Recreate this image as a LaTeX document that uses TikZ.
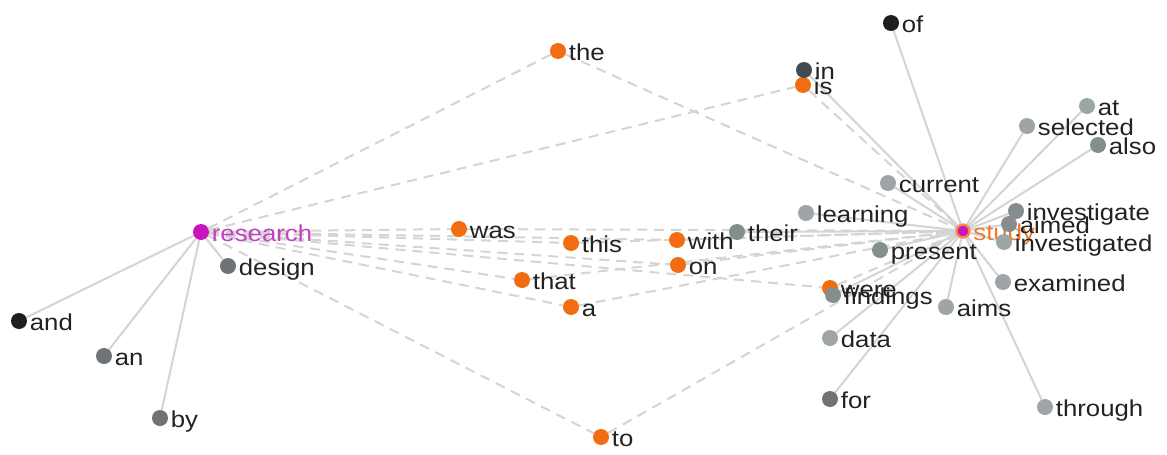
\documentclass[tikz,border=0pt]{standalone}
\usepackage{fontspec}
\setmainfont[FakeStretch=1.12]{Liberation Sans}
\usepackage{tikz}
\usetikzlibrary{backgrounds}
\usepackage{xcolor}

\definecolor{wordorange}{RGB}{242,108,18}
\definecolor{wordpink}{RGB}{204,20,190}
\definecolor{researchpink}{RGB}{196,64,190}
\definecolor{studyorange}{RGB}{236,122,44}
\definecolor{wordtext}{RGB}{34,34,34}
\definecolor{edgegray}{RGB}{212,212,212}
\definecolor{greyA}{RGB}{158,165,166}
\definecolor{greyB}{RGB}{134,141,142}
\definecolor{greyC}{RGB}{110,116,117}
\definecolor{slate}{RGB}{68,75,78}
\definecolor{ink}{RGB}{30,30,30}

\begin{document}
\begin{tikzpicture}[x=1pt,y=-1pt,font=\fontsize{23}{27}\selectfont,label distance=2.5pt,
  dot/.style={circle,fill=#1,minimum size=16pt,inner sep=0pt},
  every label/.style={inner sep=0pt,text height=19pt,text depth=0pt,text=wordtext},
  link/.style={draw=edgegray,line width=2pt},
  gap/.style={draw=edgegray,line width=2pt,dash pattern=on 10pt off 7pt}]
\useasboundingbox (0,0) rectangle (1167,455);
% the two hubs
\node[dot=wordpink,label={[text=researchpink]right:research}] (research) at (201,232) {};
\node[dot=wordpink,minimum size=13pt,draw=wordorange!80,line width=2.4pt,label={[text=studyorange]right:study}] (study) at (963,231) {};
% words around research
\node[dot=greyC,label=right:design] (w-design) at (228,266) {};
\node[dot=ink,label=right:and] (w-and) at (19,321) {};
\node[dot=greyC,label=right:an] (w-an) at (104,356) {};
\node[dot=greyC,label=right:by] (w-by) at (160,418) {};
% words shared by both hubs
\node[dot=wordorange,label=right:the] (w-the) at (558,51) {};
\node[dot=wordorange,label=right:was] (w-was) at (459,229) {};
\node[dot=wordorange,label=right:this] (w-this) at (571,243) {};
\node[dot=wordorange,label=right:that] (w-that) at (522,280) {};
\node[dot=wordorange,label=right:a] (w-a) at (571,307) {};
\node[dot=wordorange,label=right:with] (w-with) at (677,240) {};
\node[dot=wordorange,label=right:on] (w-on) at (678,265) {};
\node[dot=wordorange,label=right:to] (w-to) at (601,437) {};
\node[dot=wordorange,label=right:is] (w-is) at (803,85) {};
\node[dot=wordorange,label=right:were] (w-were) at (830,288) {};
% words around study
\node[dot=slate,label=right:in] (w-in) at (804,70) {};
\node[dot=ink,label=right:of] (w-of) at (891,23) {};
\node[dot=greyA,label=right:at] (w-at) at (1087,106) {};
\node[dot=greyA,label=right:selected] (w-selected) at (1027,126) {};
\node[dot=greyB,label=right:also] (w-also) at (1098,145) {};
\node[dot=greyA,label=right:current] (w-current) at (888,183) {};
\node[dot=greyA,label=right:learning] (w-learning) at (806,213) {};
\node[dot=greyB,label=right:their] (w-their) at (737,232) {};
\node[dot=greyB,label=right:investigate] (w-investigate) at (1016,211) {};
\node[dot=greyB,label=right:aimed] (w-aimed) at (1009,224) {};
\node[dot=greyA,label=right:investigated] (w-investigated) at (1004,242) {};
\node[dot=greyB,label=right:present] (w-present) at (880,250) {};
\node[dot=greyA,label=right:examined] (w-examined) at (1003,282) {};
\node[dot=greyB,label=right:findings] (w-findings) at (833,295) {};
\node[dot=greyA,label=right:aims] (w-aims) at (946,307) {};
\node[dot=greyA,label=right:data] (w-data) at (830,338) {};
\node[dot=greyC,label=right:for] (w-for) at (830,399) {};
\node[dot=greyA,label=right:through] (w-through) at (1045,407) {};
\begin{scope}[on background layer]
% solid links to a single hub
\draw[link] (research) -- (w-and);
\draw[link] (research) -- (w-an);
\draw[link] (research) -- (w-by);
\draw[link] (research) -- (w-design);
\draw[link] (study) -- (w-of);
\draw[link] (study) -- (w-in);
\draw[link] (study) -- (w-at);
\draw[link] (study) -- (w-selected);
\draw[link] (study) -- (w-also);
\draw[link] (study) -- (w-current);
\draw[link] (study) -- (w-learning);
\draw[link] (study) -- (w-their);
\draw[link] (study) -- (w-investigate);
\draw[link] (study) -- (w-aimed);
\draw[link] (study) -- (w-investigated);
\draw[link] (study) -- (w-present);
\draw[link] (study) -- (w-examined);
\draw[link] (study) -- (w-findings);
\draw[link] (study) -- (w-aims);
\draw[link] (study) -- (w-data);
\draw[link] (study) -- (w-for);
\draw[link] (study) -- (w-through);
% dashed paths from research to study
\draw[gap] (research) -- (w-the) -- (study);
\draw[gap] (research) -- (w-is) -- (study);
\draw[gap] (research) -- (w-was) -- (study);
\draw[gap] (research) -- (w-this) -- (study);
\draw[gap] (research) -- (w-that) -- (study);
\draw[gap] (research) -- (w-a) -- (study);
\draw[gap] (research) -- (w-with) -- (study);
\draw[gap] (research) -- (w-on) -- (study);
\draw[gap] (research) -- (w-to) -- (study);
\draw[gap] (research) -- (w-were) -- (study);
\end{scope}
\end{tikzpicture}
\end{document}
